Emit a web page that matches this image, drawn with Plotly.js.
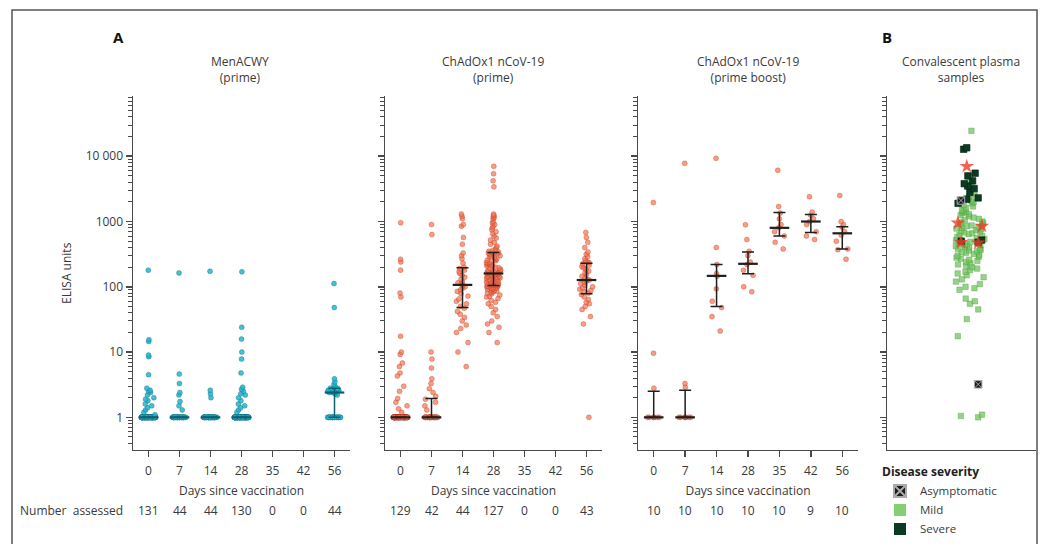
<!DOCTYPE html>
<html>
<head>
<meta charset="utf-8">
<script src="https://cdn.plot.ly/plotly-3.0.1.min.js"></script>
<style>html,body{margin:0;padding:0;background:#fff;}#chart{width:1048px;height:544px;}</style>
</head>
<body>
<div id="chart"></div>
<script>
// ---------------- DATA ----------------
const days = ['0', '7', '14', '28', '35', '42', '56'];

// MenACWY (prime): values above the floor, plus count of samples at the floor (1 EU)
const men0 = [180, 15.5, 14.5, 9, 8.5, 4.5, 2.8, 2.6, 2.5, 2.4, 2.2, 2.0, 1.9, 1.8, 1.6, 1.5, 1.4, 1.3, 1.2, 1.1];
const men0Floor = 111;
const men7 = [163, 4.6, 3.3, 2.4, 2.2, 1.75, 1.5, 1.3];
const men7Floor = 36;
const men14 = [173, 2.6, 2.3, 2.0];
const men14Floor = 40;
const men28 = [170, 24, 15.8, 10, 7.8, 4.8, 2.9, 2.7, 2.5, 2.3, 2.2, 2.0, 1.8, 1.6, 1.5, 1.4, 1.3, 1.2];
const men28Floor = 112;
const men56 = [112, 48, 3.9, 3.5, 3.2, 3.0, 2.9, 2.8, 2.8, 2.7, 2.7, 2.6, 2.6, 2.6, 2.5, 2.5, 2.5, 2.5, 2.5, 2.4, 2.4, 2.4, 2.3, 2.2];
const men56Floor = 20;
const menMedian = [1, 1, 1, 1, null, null, 2.4];
const menQ1 = [1, 1, 1, 1, null, null, 1];
const menQ3 = [1, 1, 1, 1, null, null, 2.8];

// ChAdOx1 nCoV-19 (prime)
const cha0 = [960, 265, 240, 180, 80, 70, 17.5, 10, 9.2, 6.8, 6, 4.8, 4.3, 3.0, 2.5, 1.95, 1.7, 1.5, 1.35, 1.2];
const cha0Floor = 109;
const cha7 = [900, 630, 10, 7.8, 5.7, 3.9, 3.3, 2.75, 2.4, 2.1, 1.9, 1.7, 1.5, 1.3];
const cha7Floor = 28;
const cha14 = [1300, 1200, 1100, 900, 850, 570, 450, 330, 300, 270, 230, 200, 190, 180, 170, 160, 150, 140, 130, 120, 115, 110,
  105, 100, 95, 90, 85, 78, 72, 65, 60, 55, 50, 47, 42, 38, 34, 30, 26, 23, 20, 14, 10, 6];
const cha28 = [7000, 5400, 4200, 3400, 1300, 1250, 1200, 1150, 1100, 1000, 950, 900, 850, 800, 750, 700, 650, 600, 560, 520,
  480, 450, 420, 400, 380, 360, 350, 340, 335, 330, 325,
  320, 310, 300, 290, 285, 280, 270, 260, 255, 250, 240, 235, 230, 225, 220, 215, 210, 205, 200, 195, 190, 185, 180, 178, 175,
  172, 170, 168, 166, 164, 162, 160,
  158, 156, 154, 152, 150, 148, 146, 144, 142, 140, 138, 136, 134, 132, 130, 128, 126, 124, 122, 120, 118, 116, 114, 112, 110,
  109, 108, 107, 106, 105, 105, 104,
  103, 102, 100, 99, 98, 96, 95, 93, 92, 90, 88, 86, 84, 82, 80, 78, 75, 72, 70, 66, 62, 58, 55, 50, 45, 40, 35, 30, 27, 24, 20, 14];
const cha56 = [680, 570, 480, 400, 340, 315, 290, 270, 250, 240, 235, 225, 215, 205, 195, 185, 175, 165, 155, 145, 138, 130,
  127, 122, 118, 112, 106, 100, 96, 92, 88, 84, 80, 76, 70, 64, 58, 55, 50, 45, 35, 27, 1];
const chaMedian = [1, 1, 107, 160, null, null, 127];
const chaQ1 = [1, 1, 48, 105, null, null, 78];
const chaQ3 = [1, 1.95, 195, 335, null, null, 230];

// ChAdOx1 nCoV-19 (prime boost)
const pb0 = [1950, 9.6, 2.8, 1, 1, 1, 1, 1, 1, 1];
const pb7 = [7800, 3.3, 2.9, 1, 1, 1, 1, 1, 1, 1];
const pb14 = [9300, 400, 220, 160, 145, 93, 60, 48, 35, 21];
const pb28 = [890, 530, 350, 300, 240, 220, 180, 150, 100, 84];
const pb35 = [6100, 1700, 1350, 1100, 900, 800, 700, 600, 480, 380];
const pb42 = [2400, 1400, 1250, 1100, 1000, 900, 700, 600, 530];
const pb56 = [2500, 1000, 900, 820, 700, 620, 500, 380, 370, 265];
const pbMedian = [1, 1, 147, 225, 800, 1000, 660];
const pbQ1 = [1, 1, 50, 158, 600, 680, 380];
const pbQ3 = [2.5, 2.6, 220, 340, 1380, 1280, 830];

// Number assessed
const nMen = ['131', '44', '44', '130', '0', '0', '44'];
const nCha = ['129', '42', '44', '127', '0', '0', '43'];
const nPb = ['10', '10', '10', '10', '10', '9', '10'];

// Convalescent plasma samples
const plasmaCat = 'Convalescent';
const plasmaMild = [24500, 5000, 4000, 3500, 3200, 2800, 2600, 2400, 2200, 2100, 2000, 1900, 1800, 1700, 1600, 1500, 1450, 1400,
  1350, 1300, 1250, 1200, 1150, 1100, 1050, 1000, 980, 950, 920, 900, 870, 850, 820, 800, 780, 760, 740, 720, 700, 680, 660,
  640, 620, 600, 580, 560, 540, 520, 500, 490, 480, 470, 460, 450, 440, 430, 420, 410, 400, 390, 380, 370, 360, 350, 340, 330,
  320, 310, 300, 290, 280, 270, 260, 250, 240, 230, 220, 210, 200, 190, 180, 170, 160, 150, 140, 130, 120, 110, 100, 95, 90,
  66, 60, 55, 45, 32, 17.5, 1.1, 1.05, 1];
const plasmaSevere = [13500, 12800, 5500, 5000, 4200, 3800, 3500, 3200, 2800, 2300, 2200, 1900, 520, 500, 480];
const plasmaAsym = [2100, 3.2];
const plasmaOther = [7000, 950, 850, 480, 470];

// ---------------- STYLE ----------------
const FONT = 'Open Sans, Liberation Sans, sans-serif';
const TXT = '#3a3a3a';
const AX = '#4a4a4a';
const cyan = 'rgba(38,180,205,0.85)', cyanLine = 'rgba(10,100,118,0.55)', cyanDark = '#0d5f70';
const red = 'rgba(244,115,80,0.7)', redLine = 'rgba(170,30,12,0.45)', barDark = '#1e1e1e';

function withFloor(vals, n) { return vals.concat(Array(n).fill(1)); }

function pts(vals, cat, xa, ya, color, lineColor, opts) {
  opts = opts || {};
  return {
    type: 'box', y: vals, x0: cat, name: cat, xaxis: xa, yaxis: ya,
    boxpoints: 'all', jitter: 1, pointpos: 0, width: opts.width || 0.46,
    line: {width: 0, color: 'rgba(0,0,0,0)'}, fillcolor: 'rgba(0,0,0,0)', whiskerwidth: 0,
    marker: {size: opts.size || 5, color: color, symbol: opts.symbol || 'circle',
      line: {width: opts.lw == null ? 0.6 : opts.lw, color: lineColor}},
    showlegend: false, hoverinfo: 'y'
  };
}

function bars(med, q1, q3, xa, ya, color) {
  const x = [], y = [], up = [], dn = [];
  days.forEach((d, i) => {
    if (med[i] == null) return;
    x.push(d); y.push(med[i]); up.push(q3[i] - med[i]); dn.push(med[i] - q1[i]);
  });
  return {
    type: 'scatter', mode: 'markers', x: x, y: y, xaxis: xa, yaxis: ya,
    error_y: {type: 'data', symmetric: false, array: up, arrayminus: dn, color: color, thickness: 1.5, width: 6},
    marker: {symbol: 'line-ew', size: 14, line: {width: 2.2, color: color}, color: color},
    showlegend: false, hoverinfo: 'y'
  };
}

const traces = [];
// Panel 1
[[men0, men0Floor, '0'], [men7, men7Floor, '7'], [men14, men14Floor, '14'], [men28, men28Floor, '28'], [men56, men56Floor, '56']]
  .forEach(([v, n, d]) => traces.push(pts(withFloor(v, n), d, 'x', 'y', cyan, cyanLine)));
traces.push(bars(menMedian, menQ1, menQ3, 'x', 'y', cyanDark));
// Panel 2
[[withFloor(cha0, cha0Floor), '0'], [withFloor(cha7, cha7Floor), '7'], [cha14, '14'], [cha28, '28'], [cha56, '56']]
  .forEach(([v, d]) => traces.push(pts(v, d, 'x2', 'y2', red, redLine)));
traces.push(bars(chaMedian, chaQ1, chaQ3, 'x2', 'y2', barDark));
// Panel 3
[[pb0, '0'], [pb7, '7'], [pb14, '14'], [pb28, '28'], [pb35, '35'], [pb42, '42'], [pb56, '56']]
  .forEach(([v, d]) => traces.push(pts(v, d, 'x3', 'y3', red, redLine)));
traces.push(bars(pbMedian, pbQ1, pbQ3, 'x3', 'y3', barDark));
// Panel B
const bw = 0.2;
traces.push(pts(plasmaMild, plasmaCat, 'x4', 'y4', 'rgba(112,198,92,0.75)', 'rgba(60,140,50,0.5)', {width: bw, symbol: 'square', size: 5.5}));
traces.push(pts(plasmaSevere, plasmaCat, 'x4', 'y4', '#0c3a24', '#06200f', {width: bw, symbol: 'square', size: 6.5}));
traces.push(pts(plasmaOther, plasmaCat, 'x4', 'y4', 'rgba(240,60,40,0.8)', 'rgba(240,60,40,0.8)', {width: bw, symbol: 'star', size: 11, lw: 0}));
traces.push(pts(plasmaAsym, plasmaCat, 'x4', 'y4', '#1a1a1a', '#aaaaaa', {width: bw, symbol: 'square-x', size: 7.5, lw: 1}));
// Legend entries
[['Asymptomatic', 'square-x', '#1a1a1a', '#aaaaaa', 1], ['Mild', 'square', 'rgba(112,198,92,0.85)', 'rgba(112,198,92,0.85)', 0], ['Severe', 'square', '#0c3a24', '#0c3a24', 0]]
  .forEach(([nm, sym, c, lc, lw]) => traces.push({
    type: 'scatter', mode: 'markers', x: [null], y: [null], xaxis: 'x4', yaxis: 'y4', name: nm,
    marker: {symbol: sym, size: 8, color: c, line: {color: lc, width: lw}}, showlegend: true
  }));

// ---------------- LAYOUT ----------------
const yRange = [-0.5, 4.924];
function yAxis(labels) {
  return {
    type: 'log', range: yRange, showgrid: false, zeroline: false, showline: true, linecolor: AX, linewidth: 1.5,
    ticks: 'outside', ticklen: 6, tickwidth: 1.5, tickcolor: AX,
    tickmode: 'array', tickvals: [1, 10, 100, 1000, 10000], ticktext: ['1', '10', '100', '1000', '10 000'],
    showticklabels: labels, tickfont: {size: 12, color: TXT},
    minor: {ticks: 'outside', ticklen: 4, tickwidth: 1, tickcolor: AX, dtick: 'D1', tick0: 0},
    domain: [89 / 544, 447 / 544], fixedrange: true
  };
}
function xAxis(d0, d1, withTitle) {
  const a = {
    type: 'category', categoryorder: 'array', categoryarray: days, range: [-0.5, 6.5],
    domain: [d0 / 1048, d1 / 1048], showgrid: false, zeroline: false, showline: true, linecolor: AX, linewidth: 1.5,
    ticks: 'outside', ticklen: 6, tickwidth: 1.5, tickcolor: AX, tickfont: {size: 12, color: TXT},
    ticklabelstandoff: 3, fixedrange: true
  };
  if (withTitle) a.title = {text: 'Days since vaccination', font: {size: 12, color: TXT}, standoff: 8};
  return a;
}

const ann = [];
const addText = (text, x, y, o) => ann.push(Object.assign({text, x: x / 1048, y: 1 - y / 544, xref: 'paper', yref: 'paper',
  xanchor: 'center', yanchor: 'middle', showarrow: false, font: {family: FONT, size: 12, color: TXT}}, o || {}));
addText('<b>A</b>', 118, 37, {font: {family: FONT, size: 15, color: '#111'}});
addText('<b>B</b>', 887, 37, {font: {family: FONT, size: 15, color: '#111'}});
addText('MenACWY<br>(prime)', 240, 70);
addText('ChAdOx1 nCoV-19<br>(prime)', 493, 70);
addText('ChAdOx1 nCoV-19<br>(prime boost)', 748, 70);
addText('Convalescent plasma<br>samples', 961, 70);
addText('ELISA units', 67, 276, {textangle: -90});
addText('Number  assessed', 18, 516, {xanchor: 'left'});
[[nMen, 'x'], [nCha, 'x2'], [nPb, 'x3']].forEach(([arr, xr]) => arr.forEach((t, i) => ann.push({
  text: t, x: i, xref: xr, y: 1 - 516 / 544, yref: 'paper', xanchor: 'center', yanchor: 'middle', showarrow: false,
  font: {family: FONT, size: 12, color: TXT}
})));

const layout = {
  width: 1048, height: 544, margin: {l: 0, r: 0, t: 0, b: 0}, paper_bgcolor: '#fff', plot_bgcolor: 'rgba(0,0,0,0)',
  font: {family: FONT, size: 12, color: TXT}, boxmode: 'overlay', hovermode: 'closest',
  xaxis: xAxis(133, 350, true), yaxis: yAxis(true),
  xaxis2: Object.assign(xAxis(385, 602, true), {anchor: 'y2'}), yaxis2: Object.assign(yAxis(false), {anchor: 'x2'}),
  xaxis3: Object.assign(xAxis(638, 858, true), {anchor: 'y3'}), yaxis3: Object.assign(yAxis(false), {anchor: 'x3'}),
  xaxis4: {type: 'category', range: [-0.56, 0.44], domain: [887 / 1048, 1036 / 1048], anchor: 'y4', showgrid: false, zeroline: false,
    showline: true, linecolor: AX, linewidth: 1.5, ticks: '', showticklabels: false, fixedrange: true},
  yaxis4: Object.assign(yAxis(false), {anchor: 'x4'}),
  legend: {x: 880 / 1048, y: 1 - 466 / 544, xanchor: 'left', yanchor: 'top', bgcolor: 'rgba(0,0,0,0)',
    title: {text: '<b>Disease severity</b>', font: {size: 12, color: '#222'}}, font: {size: 11.5, color: TXT},
    tracegroupgap: 0, itemsizing: 'constant', itemwidth: 30},
  annotations: ann,
  shapes: [{type: 'rect', xref: 'paper', yref: 'paper', x0: 12 / 1048, x1: 1037 / 1048, y0: -0.05, y1: 1 - 10 / 544,
    line: {color: '#555', width: 1.5}, fillcolor: 'rgba(0,0,0,0)'}]
};

Plotly.newPlot('chart', traces, layout, {displayModeBar: false, staticPlot: true});
</script>
</body>
</html>
